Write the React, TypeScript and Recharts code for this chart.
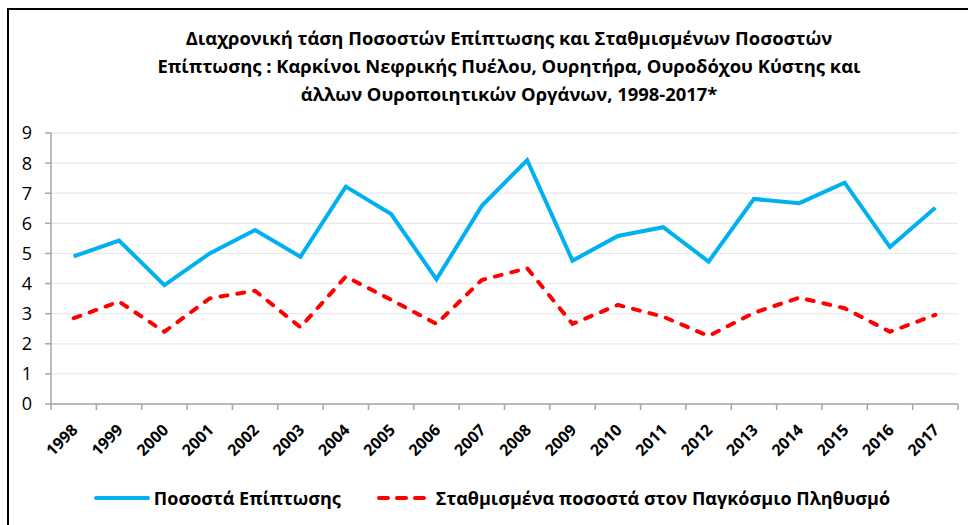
import React from 'react';
import { LineChart, Line, XAxis, YAxis, CartesianGrid, Legend } from 'recharts';

const years = ['1998','1999','2000','2001','2002','2003','2004','2005','2006','2007','2008','2009','2010','2011','2012','2013','2014','2015','2016','2017'];
const incidence = [4.9, 5.43, 3.95, 5.0, 5.78, 4.89, 7.22, 6.31, 4.14, 6.58, 8.1, 4.76, 5.58, 5.87, 4.73, 6.81, 6.67, 7.35, 5.21, 6.52];
const standardized = [2.85, 3.4, 2.4, 3.51, 3.76, 2.55, 4.23, 3.46, 2.66, 4.12, 4.51, 2.66, 3.29, 2.9, 2.26, 3.03, 3.53, 3.18, 2.4, 2.96];
const seriesNames = ['Ποσοστά Επίπτωσης', 'Σταθμισμένα ποσοστά στον Παγκόσμιο Πληθυσμό'];
const yTicks = [0, 1, 2, 3, 4, 5, 6, 7, 8, 9];
const titleLines = [
  'Διαχρονική τάση Ποσοστών Επίπτωσης και Σταθμισμένων Ποσοστών',
  'Επίπτωσης : Καρκίνοι Νεφρικής Πυέλου, Ουρητήρα, Ουροδόχου Κύστης και',
  'άλλων Ουροποιητικών Οργάνων, 1998-2017*',
];

const data = years.map((y, i) => ({ year: y, pos: i + 0.5, inc: incidence[i], std: standardized[i] }));
const boundaryTicks = Array.from({ length: years.length + 1 }, (_, i) => i);

const FONT = '"Open Sans", "Noto Sans", sans-serif';
const BLUE = '#00B0F0';
const RED = '#FF0000';
const AXIS = '#A6A6A6';

const YearTick = (props: any) => {
  const { x, y, payload } = props;
  return (
    <g transform={`translate(${x + 5},${y + 26})`}>
      <text textAnchor="end" transform="rotate(-45)" fontFamily={FONT} fontWeight={700} fontSize={16} fill="#000">
        {payload.value}
      </text>
    </g>
  );
};

const EmptyTick = () => <g />;

const LegendContent = () => (
  <div style={{ display: 'flex', justifyContent: 'center', alignItems: 'center', height: 40, paddingLeft: 26, fontFamily: FONT, fontWeight: 700, fontSize: 18, color: '#000' }}>
    <svg width={56} height={8} style={{ display: 'block' }}>
      <line x1={2} y1={4} x2={54} y2={4} stroke={BLUE} strokeWidth={4} strokeLinecap="round" />
    </svg>
    <span style={{ marginLeft: 4 }}>{seriesNames[0]}</span>
    <svg width={52} height={8} style={{ display: 'block', marginLeft: 36 }}>
      <line x1={2} y1={4} x2={50} y2={4} stroke={RED} strokeWidth={4} strokeLinecap="round" strokeDasharray="9 9" />
    </svg>
    <span style={{ marginLeft: 7 }}>{seriesNames[1]}</span>
  </div>
);

export default function App() {
  return (
    <div style={{ position: 'relative', width: 968, height: 525, background: '#fff', overflow: 'hidden' }}>
      <style>{`body{margin:0;overflow:hidden;}`}</style>
      <div style={{ position: 'absolute', left: 7, top: 8, width: 980, height: 540, borderLeft: '2px solid #000', borderTop: '2px solid #000' }} />
      <div style={{ position: 'absolute', left: 50, top: 24, width: 918, textAlign: 'center', fontFamily: FONT, fontWeight: 700, fontSize: 18.4, lineHeight: '28px', color: '#000' }}>
        {titleLines.map((t, i) => (
          <div key={i}>{t}</div>
        ))}
      </div>
      <div style={{ position: 'absolute', left: 0, top: 0 }}>
        <LineChart width={968} height={525} data={data} margin={{ top: 133, right: 10, bottom: 7, left: 0 }}>
          <CartesianGrid xAxisId="b_years" horizontal vertical={false} stroke="#E9E9E9" strokeWidth={1.3} />
          <XAxis
            xAxisId="b_years"
            dataKey="year"
            scale="band"
            interval={0}
            axisLine={false}
            tickLine={false}
            tickSize={0}
            tickMargin={0}
            height={73}
            tick={<YearTick />}
          />
          <XAxis
            xAxisId="a_ticks"
            dataKey="pos"
            type="number"
            domain={[0, years.length]}
            allowDataOverflow
            ticks={boundaryTicks}
            interval={0}
            tick={<EmptyTick />}
            tickSize={6}
            height={1}
            axisLine={{ stroke: AXIS, strokeWidth: 1.5 }}
            tickLine={{ stroke: AXIS, strokeWidth: 1.5 }}
          />
          <YAxis
            domain={[0, 9]}
            ticks={yTicks}
            interval={0}
            width={51}
            tickSize={6}
            tickMargin={13}
            axisLine={{ stroke: AXIS, strokeWidth: 1.5 }}
            tickLine={{ stroke: AXIS, strokeWidth: 1.5 }}
            tick={{ fill: '#000', fontFamily: FONT, fontSize: 18 }}
          />
          <Legend verticalAlign="bottom" height={40} content={<LegendContent />} />
          <Line xAxisId="b_years" type="linear" dataKey="inc" name={seriesNames[0]} stroke={BLUE} strokeWidth={4} dot={false} isAnimationActive={false} />
          <Line xAxisId="b_years" type="linear" dataKey="std" name={seriesNames[1]} stroke={RED} strokeWidth={4} strokeDasharray="7 10" strokeLinecap="round" dot={false} isAnimationActive={false} />
        </LineChart>
      </div>
    </div>
  );
}
